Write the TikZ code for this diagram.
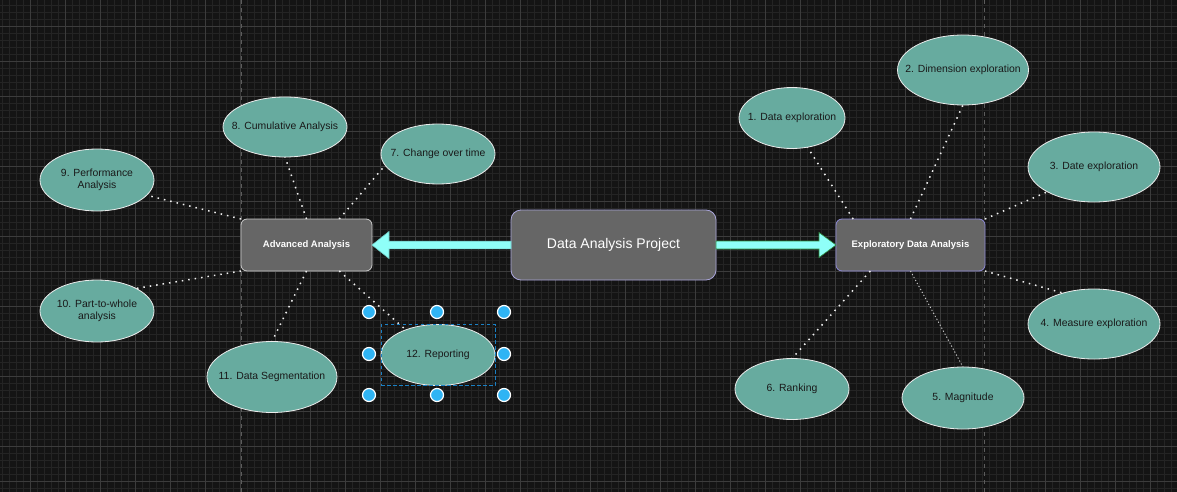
\documentclass[tikz,border=0pt]{standalone}
\usepackage{fontspec}
\setmainfont{Liberation Sans}
\usetikzlibrary{positioning, calc, shapes.geometric}

\definecolor{canvas}{HTML}{141414}
\definecolor{gridminor}{HTML}{242424}
\definecolor{gridmajor}{HTML}{3C3C3C}
\definecolor{pageline}{HTML}{5C5C5C}
\definecolor{boxgray}{HTML}{666666}
\definecolor{lavender}{HTML}{A9A5DA}
\definecolor{edaborder}{HTML}{8E8AD8}
\definecolor{sage}{HTML}{67AB9F}
\definecolor{aqua}{HTML}{8FFFF8}
\definecolor{aquaedge}{HTML}{2E8B3E}
\definecolor{handle}{HTML}{2FB4F4}
\definecolor{selblue}{HTML}{1A80C4}

\begin{document}
\begin{tikzpicture}[x=1pt,y=-1pt]
  \tikzset{ProjectStyle/.style = {
    shape          = rectangle,
    rounded corners = 10pt,
    draw           = lavender,
    fill           = boxgray,
    line width     = 0.8pt,
    text           = white,
    inner sep      = 0pt,
    outer sep      = 0pt,
    minimum width  = 205pt,
    minimum height = 70pt,
    font           = \fontsize{14}{16}\selectfont
    }
  }
  \tikzset{BranchStyle/.style = {
    shape          = rectangle,
    rounded corners = 6pt,
    draw           = white!80!black,
    fill           = boxgray,
    line width     = 0.8pt,
    text           = white,
    inner sep      = 0pt,
    outer sep      = 0pt,
    minimum width  = 131pt,
    minimum height = 52pt,
    font           = \bfseries\fontsize{9.5}{11}\selectfont
    }
  }
  \tikzset{TopicStyle/.style = {
    shape          = ellipse,
    draw           = white!92!black,
    fill           = sage,
    line width     = 0.8pt,
    text           = black!90,
    align          = center,
    inner xsep     = -30pt,
    inner ysep     = 0pt,
    outer sep      = 0pt,
    font           = \fontsize{10.4}{12.5}\selectfont
    }
  }
  \tikzset{LinkStyle/.style = {
    draw           = white!94!black,
    line width     = 1.5pt,
    dash pattern   = on 1.5pt off 5pt
    }
  }
  \tikzset{FineLinkStyle/.style = {
    draw           = white!80!black,
    line width     = 0.9pt,
    dash pattern   = on 1.2pt off 2.2pt
    }
  }
  \tikzset{BlockArrow/.style = {
    fill           = aqua,
    draw           = #1,
    line width     = 0.6pt,
    line join      = miter
    }
  }
  \tikzset{HandleStyle/.style = {
    shape          = circle,
    fill           = handle,
    draw           = white,
    line width     = 1.2pt,
    inner sep      = 0pt,
    minimum size   = 13pt
    }
  }
  \tikzset{SelectStyle/.style = {
    shape          = rectangle,
    draw           = selblue,
    line width     = 0.9pt,
    dash pattern   = on 3.5pt off 2.5pt,
    inner sep      = 0pt,
    minimum width  = 114pt,
    minimum height = 61pt
    }
  }

  % canvas and grid
  \useasboundingbox (0,0) rectangle (1177,492);
  \fill[canvas] (0,0) rectangle (1177,492);
  \foreach \gx in {2.7,9.7,...,1177} \draw[gridminor, line width=0.6pt] (\gx,0) -- (\gx,492);
  \foreach \gy in {5,12,...,492} \draw[gridminor, line width=0.6pt] (0,\gy) -- (1177,\gy);
  \foreach \gx in {30.7,65.7,...,1177} \draw[gridmajor, line width=0.8pt] (\gx,0) -- (\gx,492);
  \foreach \gy in {26,61,...,492} \draw[gridmajor, line width=0.8pt] (0,\gy) -- (1177,\gy);
  \draw[pageline, line width=0.8pt, dash pattern=on 4pt off 4pt] (241,0) -- (241,492);
  \draw[pageline, line width=0.8pt, dash pattern=on 4pt off 4pt] (984,0) -- (984,492);

	\node[ProjectStyle](dap) at (613.5, 245) {Data Analysis Project};
	\node[BranchStyle](adv) at (306.5, 245) {Advanced Analysis};
	\node[BranchStyle, draw=edaborder, minimum width=149pt](eda) at (910.5, 245) {Exploratory Data Analysis};

	\node[TopicStyle, minimum width=106pt, minimum height=61pt](e1) at (792, 118) {1. Data exploration};
	\node[TopicStyle, minimum width=131pt, minimum height=70pt](e2) at (963, 70) {2. Dimension exploration};
	\node[TopicStyle, minimum width=132pt, minimum height=70pt](e3) at (1094, 167) {3. Date exploration};
	\node[TopicStyle, minimum width=132pt, minimum height=70pt](e4) at (1094, 324) {4. Measure exploration};
	\node[TopicStyle, minimum width=122pt, minimum height=62pt](e5) at (963, 398) {5. Magnitude};
	\node[TopicStyle, minimum width=114pt, minimum height=61pt](e6) at (792, 389) {6. Ranking};
	\node[TopicStyle, minimum width=114pt, minimum height=60pt](e7) at (438, 154) {7. Change over time};
	\node[TopicStyle, minimum width=124pt, minimum height=60pt](e8) at (285, 127) {8. Cumulative Analysis};
	\node[TopicStyle, minimum width=114pt, minimum height=62pt](e9) at (97, 180) {9. Performance\\Analysis};
	\node[TopicStyle, minimum width=114pt, minimum height=62pt](e10) at (97, 311) {10. Part-to-whole\\analysis};
	\node[TopicStyle, minimum width=130pt, minimum height=71pt](e11) at (272, 377) {11. Data Segmentation};
	\node[TopicStyle, minimum width=114pt, minimum height=61pt](e12) at (438, 355) {12. Reporting};

	% block arrows out of the project box
	\draw[BlockArrow=aqua!80!black] ($(dap.west)+(0,-3.8)$) -- ($(adv.east)+(17,-3.8)$) -- ($(adv.east)+(17,-13.5)$) -- (adv.east)
	  -- ($(adv.east)+(17,13.5)$) -- ($(adv.east)+(17,3.8)$) -- ($(dap.west)+(0,3.8)$) -- cycle;
	\draw[BlockArrow=aquaedge] ($(dap.east)+(0,-4)$) -- ($(eda.west)+(-17,-4)$) -- ($(eda.west)+(-17,-12.5)$) -- (eda.west)
	  -- ($(eda.west)+(-17,12.5)$) -- ($(eda.west)+(-17,4)$) -- ($(dap.east)+(0,4)$) -- cycle;

	\draw[LinkStyle](adv.north west) to (e9.-17);
	\draw[LinkStyle](adv.north) to (e8.south);
	\draw[LinkStyle]($(adv.north)!0.5!(adv.north east)$) to (e7.192);
	\draw[LinkStyle](adv.south west) to (e10.30);
	\draw[LinkStyle](adv.south) to (e11.north);
	\draw[LinkStyle]($(adv.south)!0.5!(adv.south east)$) to (e12.142);

	\draw[LinkStyle]($(eda.north west)!0.23!(eda.north)$) to (e1.-62);
	\draw[LinkStyle](eda.north) to (e2.south);
	\draw[LinkStyle](eda.north east) to (e3.208);
	\draw[LinkStyle](eda.south east) to (e4.135);
	\draw[FineLinkStyle](eda.south) to (e5.north);
	\draw[LinkStyle]($(eda.south west)!0.46!(eda.south)$) to (e6.north);

	% selection of the reporting topic
	\node[SelectStyle](sel) at (e12) {};
	\foreach \hx/\hy [count=\hi] in {369/312, 437/312, 504/312, 369/354, 504/354, 369/395, 437/395, 504/395}
	  \node[HandleStyle](h\hi) at (\hx, \hy) {};

  \end{tikzpicture}
\end{document}
